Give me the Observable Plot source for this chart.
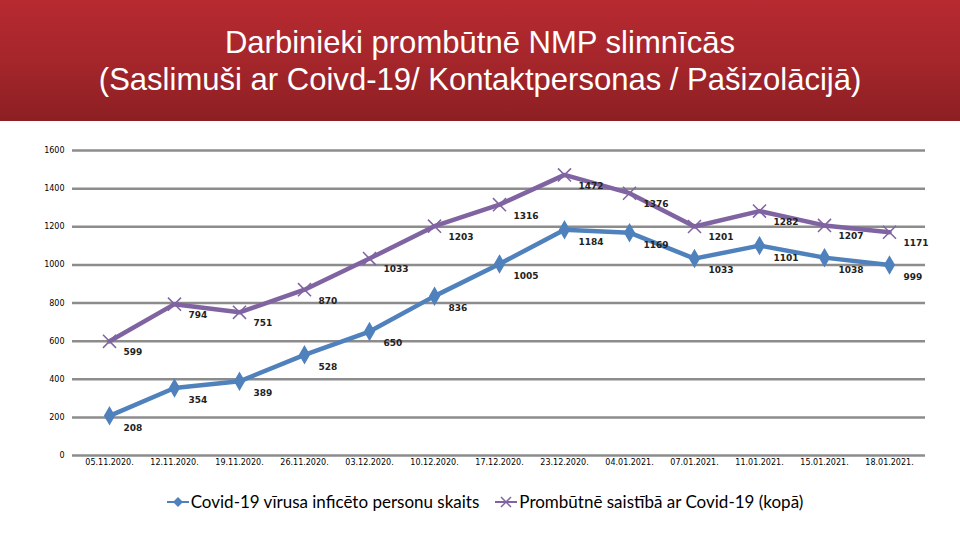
<!DOCTYPE html>
<html>
<head>
<meta charset="utf-8">
<script src="https://cdn.jsdelivr.net/npm/d3@7"></script>
<script src="https://cdn.jsdelivr.net/npm/@observablehq/plot@0.6"></script>
<style>
  html, body { margin: 0; padding: 0; background: #ffffff; width: 960px; height: 540px; overflow: hidden; }
  #header {
    height: 121px; width: 960px;
    background: linear-gradient(to bottom, #b72a30 0%, #a5262b 50%, #8c1f23 100%);
    color: #ffffff; text-align: center;
    font-family: "Liberation Sans", Arial, sans-serif;
    font-size: 32px; line-height: 37px;
    padding-top: 24px; box-sizing: border-box;
  }
  #header span { display: inline-block; transform: scaleX(0.97); transform-origin: center; white-space: nowrap; }
  #chart svg { display: block; }
  #legend {
    display: flex; justify-content: center; align-items: center; gap: 16px;
    font-family: "Lato", "Open Sans", sans-serif; font-size: 17px; color: #000;
    margin-top: 6px; margin-left: 10px;
  }
  .item { display: flex; align-items: center; gap: 2px; }
</style>
</head>
<body>
<div id="header"><span>Darbinieki prombūtnē NMP slimnīcās</span><br><span>(Saslimuši ar Coivd-19/ Kontaktpersonas / Pašizolācijā)</span></div>
<div id="chart"></div>
<div id="legend"></div>
<script>
const dates = ["05.11.2020.", "12.11.2020.", "19.11.2020.", "26.11.2020.", "03.12.2020.", "10.12.2020.", "17.12.2020.", "23.12.2020.", "04.01.2021.", "07.01.2021.", "11.01.2021.", "15.01.2021.", "18.01.2021."];
const infected = [208, 354, 389, 528, 650, 836, 1005, 1184, 1169, 1033, 1101, 1038, 999];
const absent = [599, 794, 751, 870, 1033, 1203, 1316, 1472, 1376, 1201, 1282, 1207, 1171];
const yTicks = [0, 200, 400, 600, 800, 1000, 1200, 1400, 1600];
const seriesNames = ["Covid-19 vīrusa inficēto personu skaits", "Prombūtnē saistībā ar Covid-19 (kopā)"];
const colors = ["#4F81BD", "#8064A2"];

const blueData = dates.map((d, i) => ({date: d, value: infected[i]}));
const purpleData = dates.map((d, i) => ({date: d, value: absent[i]}));

const chart = Plot.plot({
  width: 960,
  height: 364,
  marginLeft: 72,
  marginRight: 35,
  marginTop: 29,
  marginBottom: 30,
  x: {type: "point", domain: dates, padding: 0.5, axis: null},
  y: {domain: [0, 1600], axis: null},
  style: {background: "transparent"},
  marks: [
    Plot.ruleY(yTicks, {stroke: "#8c8c8c", strokeWidth: 2.5}),
    Plot.ruleX([0], {x: () => null, frameAnchor: "left", stroke: "#8c8c8c", strokeWidth: 2.5}),
    Plot.text(yTicks, {y: d => d, frameAnchor: "left", dx: -8, textAnchor: "end", text: d => String(d), fontSize: 8, fill: "#000", fontFamily: "DejaVu Sans"}),
    Plot.text(dates, {x: d => d, frameAnchor: "bottom", dy: 9, text: d => d, fontSize: 8, fill: "#000", fontFamily: "DejaVu Sans", letterSpacing: "-0.3px"}),
    Plot.line(purpleData, {x: "date", y: "value", stroke: colors[1], strokeWidth: 4.5}),
    Plot.line(blueData, {x: "date", y: "value", stroke: colors[0], strokeWidth: 4.5}),
    Plot.dot(purpleData, {x: "date", y: "value", symbol: "times", r: 6, stroke: colors[1], strokeWidth: 1.5}),
    Plot.dot(blueData, {x: "date", y: "value", symbol: "diamond", r: 5, fill: colors[0], stroke: colors[0]}),
    Plot.text(purpleData, {x: "date", y: "value", text: d => String(d.value), dx: 14, dy: 11, textAnchor: "start", fontSize: 9, fontWeight: "bold", fill: "#222", fontFamily: "DejaVu Sans"}),
    Plot.text(blueData, {x: "date", y: "value", text: d => String(d.value), dx: 14, dy: 12, textAnchor: "start", fontSize: 9, fontWeight: "bold", fill: "#222", fontFamily: "DejaVu Sans"})
  ]
});
document.getElementById("chart").appendChild(chart);

const legend = document.getElementById("legend");
const icons = [
  '<svg width="22" height="12"><line x1="0" y1="6" x2="22" y2="6" stroke="' + colors[0] + '" stroke-width="2"/><path d="M11 1 L16 6 L11 11 L6 6 Z" fill="' + colors[0] + '"/></svg>',
  '<svg width="22" height="12"><line x1="0" y1="6" x2="22" y2="6" stroke="' + colors[1] + '" stroke-width="2"/><path d="M6 1 L16 11 M16 1 L6 11" stroke="' + colors[1] + '" stroke-width="1.5"/></svg>'
];
seriesNames.forEach((name, i) => {
  const el = document.createElement("div");
  el.className = "item";
  el.innerHTML = icons[i] + "<span>" + name + "</span>";
  legend.appendChild(el);
});
</script>
</body>
</html>
